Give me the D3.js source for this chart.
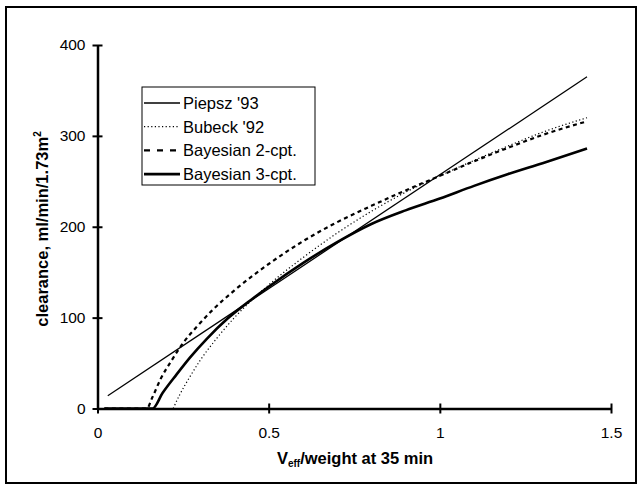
<!DOCTYPE html>
<html>
<head>
<script src="https://d3js.org/d3.v7.min.js"></script>
<style>
    body { margin: 0; background: #fff; }
    text { font-family: "Liberation Sans", Arial, sans-serif; fill: #000; }
    .tick-label { font-size: 15.5px; }
    .axis-title { font-size: 16.5px; font-weight: bold; }
    .legend-text { font-size: 16.5px; }
</style>
</head>
<body>
<svg width="641" height="487"></svg>
<script>
    // values: [V_eff/weight, clearance]
    const piepsz = [[0.03, 14], [1.43, 365]];
    const bubeck = [[0.221, 0], [0.24, 15], [0.27, 35], [0.30, 53], [0.35, 78], [0.40, 100], [0.45, 119],
        [0.50, 136], [0.60, 166], [0.70, 193], [0.80, 217], [0.90, 238], [1.00, 256], [1.10, 273],
        [1.20, 289], [1.30, 304], [1.43, 320]];
    const bayes2 = [[0.02, 0], [0.144, 0], [0.16, 12], [0.185, 33], [0.215, 52], [0.25, 72], [0.29, 90],
        [0.335, 108], [0.40, 130], [0.50, 159], [0.60, 184], [0.70, 205], [0.80, 223], [0.90, 240],
        [1.00, 256], [1.10, 272], [1.20, 287], [1.30, 301], [1.43, 316]];
    const bayes3 = [[0.02, 0], [0.161, 0], [0.19, 17], [0.23, 37], [0.27, 56], [0.32, 77], [0.38, 99],
        [0.45, 120], [0.50, 134], [0.60, 160], [0.70, 183], [0.80, 203], [0.90, 218], [1.00, 231],
        [1.10, 245], [1.20, 258], [1.30, 270], [1.43, 286]];

    const xTicks = [0, 0.5, 1, 1.5];
    const yTicks = [0, 100, 200, 300, 400];
    const seriesNames = ["Piepsz '93", "Bubeck '92", "Bayesian 2-cpt.", "Bayesian 3-cpt."];

    const svg = d3.select("svg");

    // outer frame
    svg.append("rect")
        .attr("x", 6).attr("y", 7)
        .attr("width", 630).attr("height", 476)
        .attr("fill", "none").attr("stroke", "#000").attr("stroke-width", 2);

    const x = d3.scaleLinear().domain([0, 1.5]).range([97.5, 611]);
    const y = d3.scaleLinear().domain([0, 400]).range([408.5, 45]);

    // axes
    const xAxis = svg.append("g").attr("transform", "translate(0," + y(0) + ")")
        .call(d3.axisBottom(x).tickValues(xTicks).tickFormat(d3.format("")).tickSizeInner(5).tickSizeOuter(0));
    const yAxis = svg.append("g").attr("transform", "translate(" + x(0) + ",0)")
        .call(d3.axisLeft(y).tickValues(yTicks).tickSizeInner(5).tickSizeOuter(0));

    [xAxis, yAxis].forEach(function (ax) {
        ax.select(".domain").attr("stroke", "#000").attr("stroke-width", 2.5);
        ax.selectAll(".tick line").attr("stroke", "#000").attr("stroke-width", 2);
        ax.selectAll(".tick text").attr("class", "tick-label").attr("font-family", null).attr("font-size", null);
    });
    // ticks cross the axis line
    xAxis.selectAll(".tick line").attr("y1", -5).attr("y2", 5);
    yAxis.selectAll(".tick line").attr("x1", -5).attr("x2", 5);
    xAxis.selectAll(".tick text").attr("y", 18);
    yAxis.selectAll(".tick text").attr("x", -12);

    // curves
    const line = d3.line()
        .x(function (d) { return x(d[0]); })
        .y(function (d) { return y(d[1]); })
        .curve(d3.curveMonotoneX);

    const styles = [
        { data: piepsz, width: 1.3, dash: null },
        { data: bubeck, width: 1.2, dash: "1.2,2.4" },
        { data: bayes2, width: 2.2, dash: "4,3.5" },
        { data: bayes3, width: 2.6, dash: null }
    ];

    styles.forEach(function (s) {
        svg.append("path")
            .datum(s.data)
            .attr("d", line)
            .attr("fill", "none")
            .attr("stroke", "#000")
            .attr("stroke-width", s.width)
            .attr("stroke-dasharray", s.dash);
    });

    // legend
    const legend = svg.append("g").attr("transform", "translate(142,87)");
    legend.append("rect")
        .attr("width", 173).attr("height", 98)
        .attr("fill", "#fff").attr("stroke", "#000").attr("stroke-width", 1);

    seriesNames.forEach(function (name, i) {
        const ly = 16 + i * 23.7;
        legend.append("line")
            .attr("x1", 2).attr("x2", 38)
            .attr("y1", ly).attr("y2", ly)
            .attr("stroke", "#000")
            .attr("stroke-width", styles[i].width)
            .attr("stroke-dasharray", i === 2 ? "6,7" : styles[i].dash);
        legend.append("text")
            .attr("class", "legend-text")
            .attr("x", 41).attr("y", ly + 6)
            .text(name);
    });

    // axis titles
    const xt = svg.append("text")
        .attr("class", "axis-title")
        .attr("x", 355).attr("y", 464)
        .attr("text-anchor", "middle");
    xt.append("tspan").text("V");
    xt.append("tspan").attr("font-size", "10px").attr("dy", 3).text("eff");
    xt.append("tspan").attr("dy", -3).text("/weight at 35 min");

    const yt = svg.append("text")
        .attr("class", "axis-title")
        .attr("transform", "translate(48,229) rotate(-90)")
        .attr("text-anchor", "middle");
    yt.append("tspan").text("clearance, ml/min/1.73m");
    yt.append("tspan").attr("font-size", "10px").attr("dy", -7).text("2");
</script>
</body>
</html>
